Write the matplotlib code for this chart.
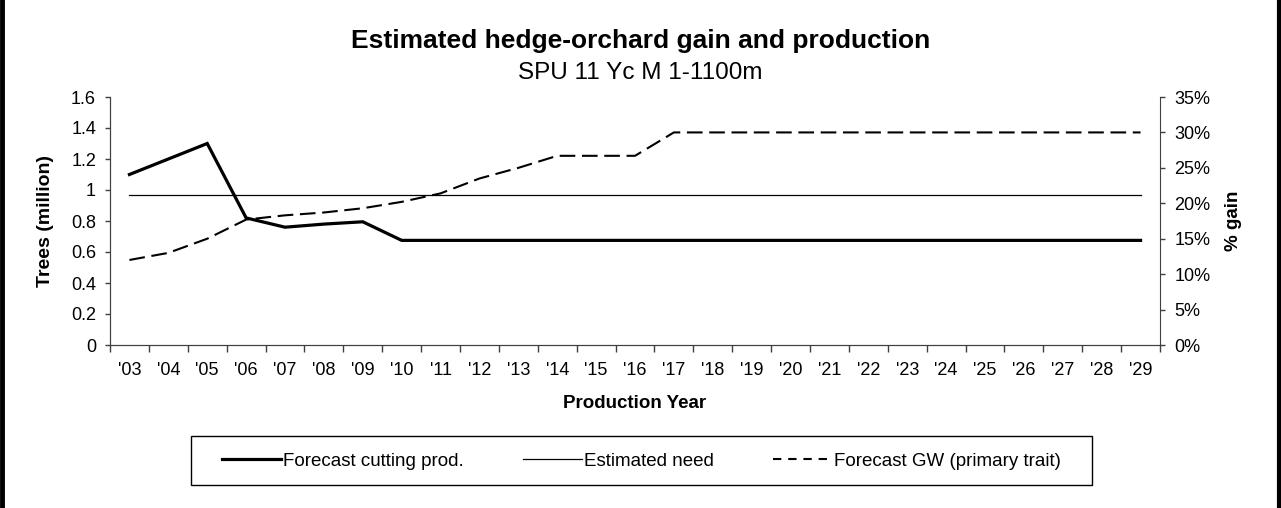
import matplotlib.pyplot as plt
from matplotlib.lines import Line2D
from matplotlib.patches import Rectangle
from matplotlib.ticker import FixedLocator, PercentFormatter

plt.rcParams['font.family'] = ['Liberation Sans', 'DejaVu Sans']

years = ["'%02d" % y for y in range(3, 30)]
cutting = [1.10, 1.20, 1.30, 0.82, 0.76, 0.78, 0.795, 0.675] + [0.675] * 19
need = [0.965] * 27
gain = [12.0, 13.0, 15.0, 17.7, 18.3, 18.7, 19.3, 20.2, 21.4, 23.5, 25.0,
        26.7, 26.7, 26.7] + [30.0] * 13

W, H = 1281, 508
fig = plt.figure(figsize=(W / 100, H / 100), dpi=100)
ax = fig.add_axes([110 / W, 1 - 345 / H, 1050 / W, 248 / H])
ax2 = ax.twinx()

x = list(range(len(years)))
l1, = ax.plot(x, cutting, color='black', lw=2.3, solid_joinstyle='miter',
              label='Forecast cutting prod.')
l2, = ax.plot(x, need, color='black', lw=0.9, label='Estimated need')
ax2.plot(x, gain, color='black', lw=1.5, dashes=(7.5, 3.2))
# the legend sample uses a shorter dash than the plotted line
l3 = Line2D([], [], color='black', lw=1.5, dashes=(4, 3.3),
            label='Forecast GW (primary trait)')

ax.set_xlim(-0.5, len(years) - 0.5)
ax.set_ylim(0, 1.6)
ax.set_yticks([0, 0.2, 0.4, 0.6, 0.8, 1.0, 1.2, 1.4, 1.6])
ax.set_yticklabels(['0', '0.2', '0.4', '0.6', '0.8', '1', '1.2', '1.4', '1.6'])
ax2.set_ylim(0, 35)
ax2.set_yticks(range(0, 36, 5))
ax2.yaxis.set_major_formatter(PercentFormatter(decimals=0))

ax.xaxis.set_major_locator(FixedLocator([i - 0.5 for i in range(len(years) + 1)]))
ax.xaxis.set_minor_locator(FixedLocator(x))
ax.set_xticklabels([], minor=False)
ax.set_xticklabels(years, minor=True)
ax.tick_params(axis='x', which='minor', length=0, pad=12, labelsize=13)
ax.tick_params(axis='x', which='major', length=5, width=1, direction='out',
               color='#404040')
ax.tick_params(axis='y', length=3.5, width=1, labelsize=13, pad=6.5,
               color='#404040')
ax2.tick_params(axis='y', length=3.5, width=1, labelsize=13, pad=7,
                color='#404040')

for a in (ax, ax2):
    a.spines['top'].set_visible(False)
    for s in ('left', 'right', 'bottom'):
        a.spines[s].set_color('#404040')
ax.spines['right'].set_visible(False)

ax.set_ylabel('Trees (million)', fontsize=14, fontweight='bold')
ax2.set_ylabel('% gain', fontsize=13.5, fontweight='bold')
ax.set_xlabel('Production Year', fontsize=13.5, fontweight='bold')
ax.yaxis.set_label_coords((45.5 - 110) / 1050, 0.5)
ax2.yaxis.set_label_coords((1233 - 110) / 1050, 0.5)
ax.xaxis.set_label_coords(0.5, (345 - 404) / 248)
for lab in (ax.yaxis.label, ax2.yaxis.label, ax.xaxis.label):
    lab.set_va('center')
    lab.set_ha('center')

fig.text(0.5, 1 - 48.3 / H, 'Estimated hedge-orchard gain and production',
         ha='center', va='baseline', fontsize=19, fontweight='bold')
fig.text(0.5, 1 - 79 / H, 'SPU 11 Yc M 1-1100m', ha='center',
         va='baseline', fontsize=17.5)

# legend box drawn separately so the padding can differ per side
fig.add_artist(Rectangle((191 / W, 1 - 485 / H), 901 / W, 49 / H,
                         transform=fig.transFigure, facecolor='white',
                         edgecolor='black', lw=1.0))
fig.legend(handles=[l1, l2, l3], loc='center', ncol=3,
           bbox_to_anchor=(641.5 / W, 1 - 461 / H), fontsize=13.5,
           handlelength=3.15, handletextpad=0.1, columnspacing=3.15,
           frameon=False, borderpad=0, borderaxespad=0)

# black frame edges on the left and right
fig.add_artist(Line2D([2 / W, 2 / W], [0, 1], color='black', lw=3.5))
fig.add_artist(Line2D([1279 / W, 1279 / W], [0, 1], color='black', lw=3.0))

fig.savefig('out.png', dpi=100)
